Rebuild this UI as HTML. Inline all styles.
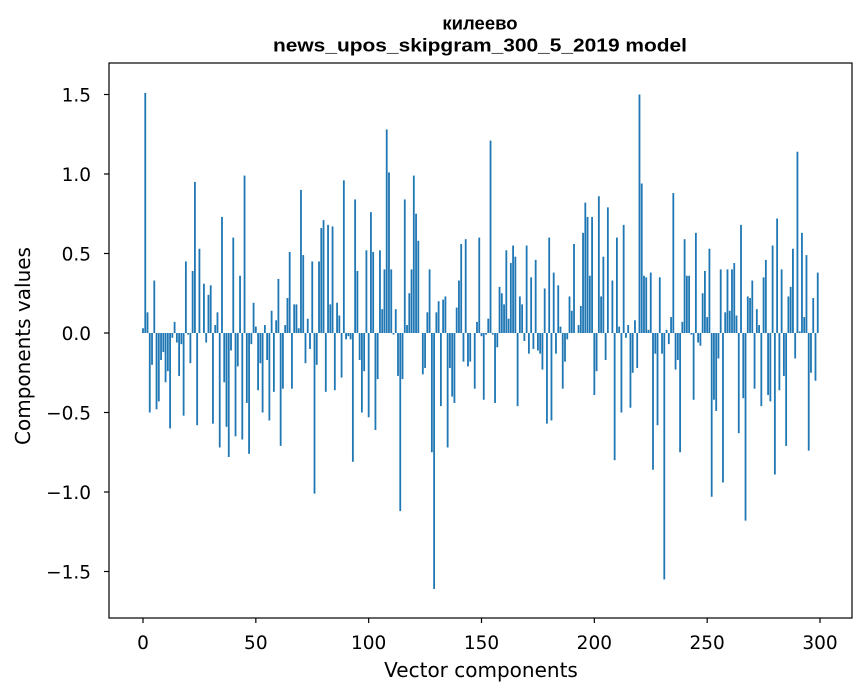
<!DOCTYPE html>
<html><head><meta charset="utf-8"><style>
body{margin:0;background:#fff;}
svg{display:block;font-family:"DejaVu Sans","Liberation Sans",sans-serif;}
</style></head><body>
<svg id="chart" width="867" height="696" viewBox="0 0 867 696">
<rect width="867" height="696" fill="#fff"/>
<text x="480" y="29.5" text-anchor="middle" font-size="18.5" font-weight="bold" font-family="Liberation Sans, sans-serif">килеево</text>
<text x="480" y="51.5" text-anchor="middle" font-size="18.5" font-weight="bold" font-family="Liberation Sans, sans-serif" textLength="414" lengthAdjust="spacingAndGlyphs">news_upos_skipgram_300_5_2019 model</text>
<g id="bars"></g>
<g id="axes"></g>
<text x="481" y="677" text-anchor="middle" font-size="20">Vector components</text>
<text x="30" y="346" text-anchor="middle" font-size="20" transform="rotate(-90 30 346)">Components values</text>
</svg>
<script>
const values = [0.03,1.51,0.13,-0.50,-0.20,0.33,-0.48,-0.43,-0.17,-0.12,
-0.31,-0.24,-0.60,-0.03,0.07,-0.06,-0.27,-0.07,-0.52,0.45,
-0.01,-0.19,0.39,0.95,-0.58,0.53,0.0,0.31,-0.06,0.24,
0.30,-0.57,0.05,0.13,-0.72,0.73,-0.31,-0.59,-0.78,-0.11,
0.60,-0.65,-0.21,0.36,-0.67,0.99,-0.44,-0.76,-0.07,0.19,
0.04,-0.36,-0.19,-0.50,0.05,-0.17,-0.55,0.14,-0.37,0.08,
0.34,-0.71,-0.35,0.05,0.22,0.51,-0.35,0.18,0.18,0.03,
0.90,0.49,-0.19,0.09,-0.10,0.45,-1.01,-0.20,0.45,0.66,
0.71,-0.37,0.68,0.18,0.67,-0.36,0.19,0.11,-0.28,0.96,
-0.04,-0.02,-0.04,-0.81,0.84,0.39,-0.17,-0.50,-0.24,0.52,
-0.53,0.76,0.51,-0.61,-0.29,0.52,0.15,0.40,1.28,1.01,
0.40,-0.01,0.15,-0.27,-1.12,-0.29,0.84,0.05,0.25,0.40,
0.99,0.75,0.58,0.0,-0.26,-0.22,0.13,0.40,-0.75,-1.61,
0.13,0.20,-0.46,0.21,0.23,-0.72,-0.22,-0.40,-0.44,0.16,
0.33,0.56,-0.18,0.59,-0.21,-0.18,0.0,-0.35,0.07,0.60,
-0.02,-0.42,-0.01,0.09,1.21,-0.01,-0.44,-0.09,0.29,0.25,
0.18,0.52,0.09,0.44,0.55,0.48,-0.46,0.23,0.18,-0.05,
0.55,-0.13,0.35,-0.10,0.46,-0.11,-0.13,-0.23,0.28,-0.57,
0.60,-0.55,0.38,-0.13,0.30,0.04,-0.35,-0.18,-0.04,0.23,
0.14,0.56,0.0,0.05,0.17,0.63,0.82,0.73,0.36,0.73,
-0.39,-0.24,0.86,0.23,0.48,-0.17,0.79,0.0,0.33,-0.80,
0.60,0.04,-0.50,0.68,-0.03,0.05,-0.47,-0.25,0.08,-0.22,
1.50,0.94,0.36,0.35,0.02,0.38,-0.86,-0.13,-0.58,0.35,
-0.13,-1.55,0.02,-0.07,0.10,0.88,-0.23,-0.17,-0.75,0.07,
0.59,0.36,0.36,-0.01,-0.42,0.63,-0.06,-0.08,0.25,0.39,
0.10,0.53,-1.03,-0.42,-0.49,-0.16,0.40,-0.94,0.13,0.40,
0.14,0.40,0.44,0.11,-0.63,0.68,-0.41,-1.18,0.23,0.22,
0.33,-0.35,0.15,0.05,-0.46,0.35,0.46,-0.39,-0.43,0.55,
-0.89,0.72,-0.36,0.40,-0.27,-0.71,0.23,0.29,0.53,-0.16,
1.14,0.01,0.63,0.10,0.49,-0.74,-0.25,0.22,-0.30,0.38];
const xTicks = [0,50,100,150,200,250,300];
const yTicks = [-1.5,-1.0,-0.5,0.0,0.5,1.0,1.5];
const yTickLabels = ["\u22121.5","\u22121.0","\u22120.5","0.0","0.5","1.0","1.5"];

const L=109,R=852,T=63,B=618;
const xScale = v => 143 + v*(820-143)/300;
const yScale = v => 333 - v*159;
const NS="http://www.w3.org/2000/svg";
const bars=document.getElementById('bars');
const bw=(xScale(1)-xScale(0))*0.8;
values.forEach((v,i)=>{
  const r=document.createElementNS(NS,'rect');
  const y0=yScale(0), y1=yScale(v);
  r.setAttribute('x',xScale(i)-bw/2);
  r.setAttribute('y',Math.min(y0,y1));
  r.setAttribute('width',bw);
  r.setAttribute('height',Math.abs(y1-y0));
  r.setAttribute('fill','#1f77b4');
  
  
  bars.appendChild(r);
});
const axes=document.getElementById('axes');
const frame=document.createElementNS(NS,'rect');
frame.setAttribute('x',L);frame.setAttribute('y',T);
frame.setAttribute('width',R-L);frame.setAttribute('height',B-T);
frame.setAttribute('fill','none');frame.setAttribute('stroke','#000');frame.setAttribute('stroke-width','1.2');


axes.appendChild(frame);
xTicks.forEach(t=>{
  const x=xScale(t);
  const l=document.createElementNS(NS,'line');
  l.setAttribute('x1',x);l.setAttribute('x2',x);l.setAttribute('y1',B);l.setAttribute('y2',B+5);
  l.setAttribute('stroke','#000');l.setAttribute('stroke-width','1.2');
  
  
  axes.appendChild(l);
  const tx=document.createElementNS(NS,'text');
  tx.setAttribute('x',x);tx.setAttribute('y',649);tx.setAttribute('text-anchor','middle');tx.setAttribute('font-size','18.5');
  tx.textContent=t;
  
  
  axes.appendChild(tx);
});
yTicks.forEach((t,i)=>{
  const y=yScale(t);
  const l=document.createElementNS(NS,'line');
  l.setAttribute('x1',L-5);l.setAttribute('x2',L);l.setAttribute('y1',y);l.setAttribute('y2',y);
  l.setAttribute('stroke','#000');l.setAttribute('stroke-width','1.2');
  
  
  axes.appendChild(l);
  const tx=document.createElementNS(NS,'text');
  tx.setAttribute('x',91);tx.setAttribute('y',y+7);tx.setAttribute('text-anchor','end');tx.setAttribute('font-size','18.5');
  tx.textContent=yTickLabels[i];
  
  
  axes.appendChild(tx);
});
</script>
</body></html>
